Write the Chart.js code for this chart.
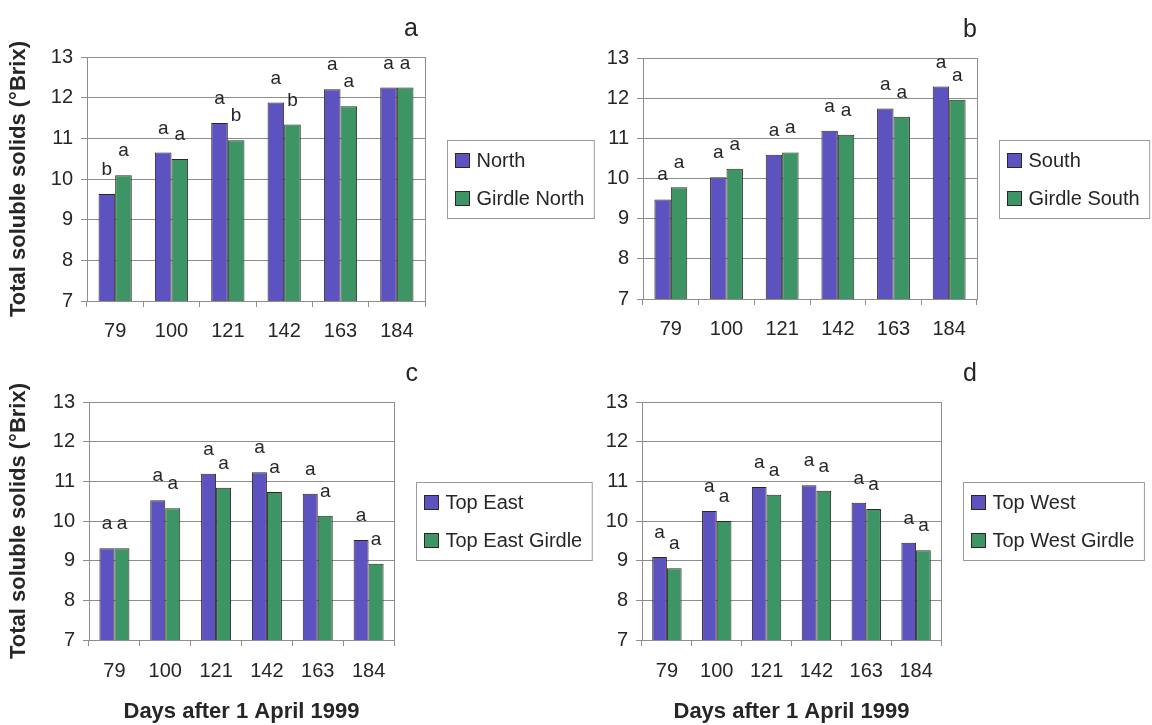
<!DOCTYPE html>
<html>
<head>
<meta charset="utf-8">
<script src="https://cdn.jsdelivr.net/npm/chart.js@4.4.0/dist/chart.umd.min.js"></script>
<style>
  html, body { margin: 0; padding: 0; background: #fff; overflow: hidden; }
  body { width: 1152px; height: 725px; position: relative; }
  canvas { position: absolute; }
</style>
</head>
<body>
<canvas id="ca" width="600" height="345" style="left:0;top:0"></canvas>
<canvas id="cb" width="560" height="345" style="left:600px;top:0"></canvas>
<canvas id="cc" width="600" height="380" style="left:0;top:345px"></canvas>
<canvas id="cd" width="560" height="380" style="left:600px;top:345px"></canvas>
<script>
// data
const days = ['79', '100', '121', '142', '163', '184'];

const north       = [9.63, 10.65, 11.38, 11.88, 12.21, 12.25];
const girdleNorth = [10.09, 10.49, 10.95, 11.34, 11.79, 12.25];
const northSig       = ['b', 'a', 'a', 'a', 'a', 'a'];
const girdleNorthSig = ['a', 'a', 'b', 'b', 'a', 'a'];

const south       = [9.48, 10.03, 10.59, 11.19, 11.74, 12.29];
const girdleSouth = [9.78, 10.24, 10.65, 11.09, 11.54, 11.96];

const topEast       = [9.31, 10.52, 11.19, 11.23, 10.69, 9.52];
const topEastGirdle = [9.31, 10.32, 10.84, 10.73, 10.13, 8.92];

const topWest       = [9.09, 10.25, 10.86, 10.90, 10.46, 9.45];
const topWestGirdle = [8.81, 10.00, 10.66, 10.76, 10.30, 9.26];

const allA = ['a', 'a', 'a', 'a', 'a', 'a'];

const yTitle = 'Total soluble solids (\u00b0Brix)';
const xTitle = 'Days after 1 April 1999';

const PURPLE = '#5d53c0';
const GREEN = '#3d9566';
const EDGE = '#2f271e';
const GRID = '#8e8e8e';
const TEXT = '#262626';

Chart.defaults.font.family = '"Liberation Sans", Arial, sans-serif';
Chart.defaults.color = TEXT;

// border box, significance letters, legend box and panel letter
const extras = {
  id: 'extras',
  afterDatasetsDraw(chart, args, opts) {
    const ctx = chart.ctx;
    const area = chart.chartArea;
    ctx.save();
    ctx.strokeStyle = GRID;
    ctx.lineWidth = 1;
    ctx.strokeRect(Math.round(area.left) + 0.5, Math.round(area.top) + 0.5,
      Math.round(area.right - area.left), Math.round(area.bottom - area.top));

    // letters over bars
    ctx.fillStyle = TEXT;
    ctx.font = '19px "Liberation Sans", Arial, sans-serif';
    ctx.textAlign = 'center';
    ctx.textBaseline = 'alphabetic';
    chart.data.datasets.forEach(function(ds, i) {
      chart.getDatasetMeta(i).data.forEach(function(bar, j) {
        ctx.fillText(ds.sig[j], bar.x, bar.y - 19);
      });
    });

    // legend
    ctx.font = '20px "Liberation Sans", Arial, sans-serif';
    let tw = 0;
    chart.data.datasets.forEach(function(ds) { tw = Math.max(tw, ctx.measureText(ds.label).width); });
    const bw = 8 + 15 + 6 + tw + 10, bh = 78;
    const bx = Math.round(area.right + 22) + 0.5;
    const by = Math.round((area.top + area.bottom) / 2 - bh / 2) + 0.5;
    ctx.fillStyle = '#fff';
    ctx.fillRect(bx, by, bw, bh);
    ctx.strokeStyle = '#9a9a9a';
    ctx.strokeRect(bx, by, bw, bh);
    ctx.textAlign = 'left';
    ctx.textBaseline = 'middle';
    chart.data.datasets.forEach(function(ds, i) {
      const cy = by + 20 + i * 38;
      ctx.fillStyle = ds.backgroundColor;
      ctx.fillRect(bx + 8, cy - 7, 14, 14);
      ctx.strokeStyle = EDGE;
      ctx.strokeRect(bx + 8, cy - 7, 14, 14);
      ctx.fillStyle = TEXT;
      ctx.fillText(ds.label, bx + 8 + 15 + 6, cy + 1);
    });

    // panel letter
    ctx.font = '25px "Liberation Sans", Arial, sans-serif';
    ctx.textAlign = 'right';
    ctx.textBaseline = 'alphabetic';
    ctx.fillText(opts.tag, opts.tagX, area.top - 21);
    ctx.restore();
  }
};

function makePanel(id, tag, tagX, names, seriesA, seriesB, sigA, sigB, box) {
  return new Chart(document.getElementById(id), {
    type: 'bar',
    data: {
      labels: days,
      datasets: [
        { label: names[0], data: seriesA, sig: sigA, backgroundColor: PURPLE, borderColor: EDGE, borderWidth: 1 },
        { label: names[1], data: seriesB, sig: sigB, backgroundColor: GREEN, borderColor: EDGE, borderWidth: 1 }
      ]
    },
    options: {
      responsive: false,
      animation: false,
      layout: { padding: { left: 0, top: box.top, right: box.right, bottom: 0 } },
      datasets: { bar: { categoryPercentage: 0.59, barPercentage: 1.0 } },
      plugins: {
        legend: { display: false },
        tooltip: { enabled: false },
        extras: { tag: tag, tagX: tagX }
      },
      scales: {
        x: {
          grid: { display: true, drawOnChartArea: false, drawTicks: true, tickLength: 6, color: GRID, offset: true },
          border: { color: GRID },
          ticks: { font: { size: 20 }, padding: box.xPad, color: TEXT },
          title: { display: box.xTitle, text: xTitle, font: { size: 22, weight: 'bold' }, color: TEXT, padding: { top: 0, bottom: 0 } },
          afterFit: function(s) { s.height = box.xh; }
        },
        y: {
          min: 7, max: 13,
          grid: { color: GRID, tickLength: 6 },
          border: { color: GRID },
          ticks: { stepSize: 1, font: { size: 20 }, padding: 8, color: TEXT },
          title: { display: box.yTitle, text: yTitle, font: { size: 22, weight: 'bold' }, color: TEXT, padding: { top: 6, bottom: 0 } },
          afterFit: function(s) { s.width = box.yw; }
        }
      }
    },
    plugins: [extras]
  });
}

makePanel('ca', 'a', 418, ['North', 'Girdle North'], north, girdleNorth, northSig, girdleNorthSig,
  { top: 57, right: 175, yw: 87, xh: 44, xPad: 12, xTitle: false, yTitle: true });
makePanel('cb', 'b', 377, ['South', 'Girdle South'], south, girdleSouth, allA, allA,
  { top: 58, right: 183, yw: 43, xh: 46, xPad: 12, xTitle: false, yTitle: false });
makePanel('cc', 'c', 418, ['Top East', 'Top East Girdle'], topEast, topEastGirdle, allA, allA,
  { top: 57, right: 206, yw: 89, xh: 85, xPad: 13, xTitle: true, yTitle: true });
makePanel('cd', 'd', 377, ['Top West', 'Top West Girdle'], topWest, topWestGirdle, allA, allA,
  { top: 57, right: 219, yw: 42, xh: 85, xPad: 13, xTitle: true, yTitle: false });
</script>
</body>
</html>
